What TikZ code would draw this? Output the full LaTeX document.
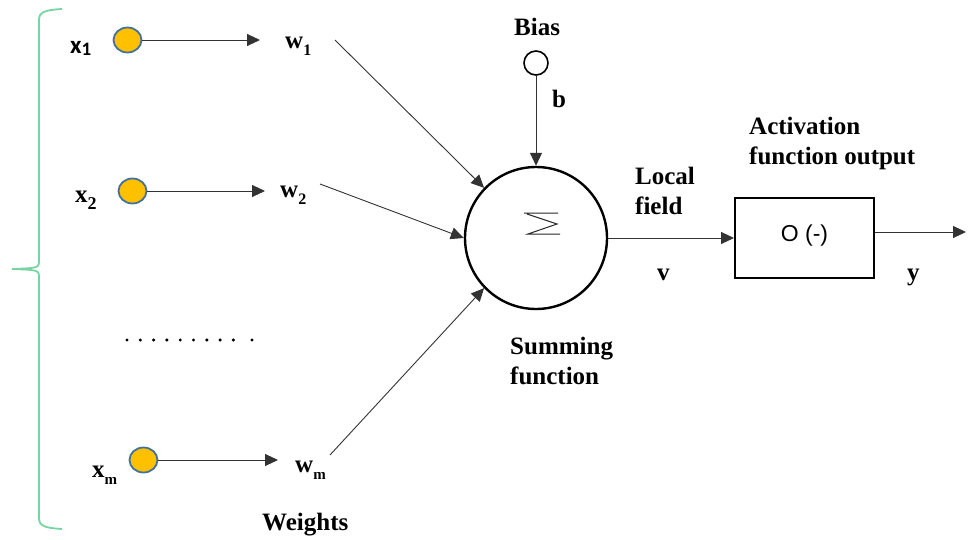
\documentclass[tikz,border=0pt]{standalone}
\usepackage{fontspec}
\setmainfont{Liberation Serif}
\newfontfamily\sansfont{Liberation Sans}
\newfontfamily\calibfont{Carlito}
\usetikzlibrary{arrows.meta,shapes.geometric}
\definecolor{inorange}{RGB}{255,192,0}
\definecolor{inblue}{RGB}{65,113,156}
\definecolor{bracegreen}{RGB}{120,212,162}
\newcommand{\withsub}[3][16]{#2\raisebox{-7pt}{\fontsize{#1}{#1}\selectfont #3}}

\begin{document}
\begin{tikzpicture}[x=1pt, y=-1pt,
    inp/.style={ellipse, draw=inblue, fill=inorange, line width=1.8pt, minimum width=28pt, minimum height=25pt, inner sep=0pt},
    lbl/.style={font=\fontsize{25}{30}\selectfont\bfseries, inner sep=0pt, align=left},
    arr/.style={-{Triangle[length=13pt,width=12pt]}, line width=0.9pt, black!80},
]
\useasboundingbox (0,0) rectangle (971,540);

% inputs and weights
\node[inp] (in1) at (127.5,40) {};
\node[inp] (in2) at (132.5,191) {};
\node[inp] (inm) at (143.5,460) {};
\node[lbl, anchor=base west] (x1) at (70,54) {\calibfont x\raisebox{-2pt}{\fontsize{19}{19}\selectfont 1}};
\node[lbl, anchor=base west] (x2) at (75,202) {\withsub[18]{x}{2}};
\node[lbl, anchor=base west] (xm) at (92,477) {\withsub[15]{x}{m}};
\node[lbl, anchor=base west] (w1) at (285,49) {\withsub{w}{1}};
\node[lbl, anchor=base west] (w2) at (280,197) {\withsub{w}{2}};
\node[lbl, anchor=base west] (wm) at (295,472) {\withsub[15]{w}{m}};
\node[lbl, anchor=base west] (wts) at (262,530) {Weights};
\foreach \i in {0,...,8}
    \fill (127+13.3*\i,340) circle (1.7pt);
\fill (252,340) circle (1.7pt);

% summing junction
\node[circle, draw, line width=2.4pt, minimum size=142pt, inner sep=0pt] (sum) at (536,238) {};
\draw[black!85, line width=1pt] (524,213) -- (558,213) (527,214) -- (557,224) -- (528,234) -- (560,234);
\node[circle, draw, line width=1.6pt, minimum size=24pt, inner sep=0pt] (bias) at (536,63) {};
\node[lbl, anchor=base west] (biaslbl) at (514,36) {Bias};
\node[lbl, anchor=base west] (b) at (552,108) {b};
\node[lbl, anchor=north west] (sumlbl) at (510,337) {Summing\\function};

% activation
\node[draw, line width=2pt, minimum width=139pt, minimum height=80pt, font=\sansfont\fontsize{23}{23}\selectfont] (act) at (804.5,238) {\raisebox{9pt}{O (-)}};
\node[lbl, anchor=north west] (loc) at (635,167) {Local\\field};
\node[lbl, anchor=base west] (v) at (657,280) {v};
\node[lbl, anchor=north west] (actlbl) at (749,117) {Activation\\function output};
\node[lbl, anchor=base west] (y) at (907,280) {y};
\coordinate (w1o) at (335,40);
\coordinate (w2o) at (320,184);
\coordinate (wmo) at (330,455);
\coordinate (yend) at (966,232);

\draw[arr, shorten >=25pt] (in1.east) -- (in1.east -| w1.west);
\draw[arr, shorten >=15pt] (in2.east) -- (in2.east -| w2.west);
\draw[arr, shorten >=17pt] (inm.east) -- (inm.east -| wm.west);
\draw[arr] (w1o) -- (sum.136);
\draw[arr] (w2o) -- (sum.west);
\draw[arr] (wmo) -- (sum.224);
\draw[arr] (bias) -- (sum);
\draw[arr] (sum.east) -- (act.west);
\draw[arr] ([yshift=6pt]act.east) -- (yend);

% input brace
\draw[bracegreen, line width=1.8pt] (62,9) .. controls (45,10) and (39,12) .. (39,20) -- (39,260) .. controls (39,268) .. (12,269) .. controls (39,270) .. (39,278) -- (39,518) .. controls (39,526) and (45,528) .. (62,529);
\end{tikzpicture}
\end{document}
